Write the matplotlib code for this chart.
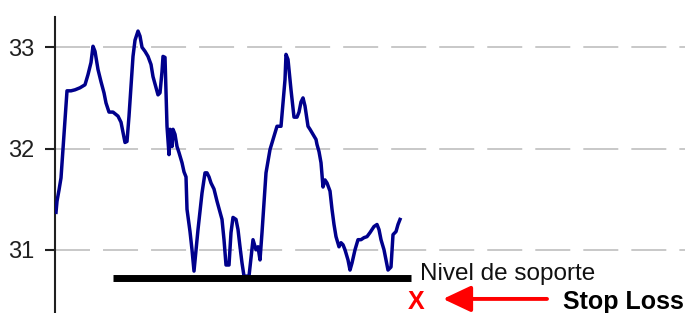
import matplotlib
matplotlib.use("Agg")
import matplotlib.pyplot as plt

# sesiones (indice) y precio de cierre
dias = [0, 1, 3, 5, 7, 9, 11, 15, 19, 24, 29, 32, 35, 37, 39, 42, 45, 48, 50, 53,
        57, 62, 65, 67, 69, 71, 73, 75, 77, 79, 82, 84, 86, 89, 92, 95, 97, 100, 102, 104,
        106, 107, 109, 110, 111, 113, 114, 116, 117, 119, 121, 123, 126, 128, 130, 131, 134, 136, 138, 140,
        142, 144, 146, 149, 151, 153, 155, 158, 161, 164, 166, 168, 170, 173, 175, 177, 180, 182, 184, 186,
        188, 191, 193, 195, 197, 200, 202, 204, 206, 208, 210, 214, 221, 223, 225, 227, 229, 230, 232, 235,
        238, 241, 243, 245, 247, 249, 252, 254, 257, 260, 261, 263, 265, 267, 269, 271, 274, 276, 278, 280,
        283, 285, 287, 289, 292, 294, 296, 299, 302, 305, 308, 311, 314, 316, 318, 321, 323, 325, 328, 330,
        332, 335, 337, 340, 342, 344]
precio = [31.37, 31.48, 31.59, 31.71, 32.00, 32.29, 32.57, 32.57, 32.58, 32.60, 32.63, 32.73, 32.85, 33.01, 32.96, 32.78, 32.66, 32.55, 32.45, 32.36,
          32.36, 32.32, 32.26, 32.16, 32.06, 32.07, 32.32, 32.61, 32.91, 33.07, 33.16, 33.11, 33.00, 32.96, 32.91, 32.83, 32.71, 32.60, 32.53, 32.55,
          32.76, 32.91, 32.90, 32.56, 32.22, 31.94, 32.19, 32.02, 32.19, 32.14, 32.02, 31.96, 31.86, 31.77, 31.72, 31.40, 31.18, 31.00, 30.79, 31.00,
          31.20, 31.38, 31.56, 31.76, 31.76, 31.72, 31.66, 31.60, 31.48, 31.37, 31.30, 31.10, 30.85, 30.85, 31.17, 31.32, 31.30, 31.20, 31.03, 30.87,
          30.74, 30.74, 30.74, 30.92, 31.10, 31.00, 31.03, 30.90, 31.17, 31.47, 31.76, 31.99, 32.22, 32.22, 32.22, 32.45, 32.68, 32.93, 32.88, 32.58,
          32.31, 32.31, 32.36, 32.46, 32.50, 32.42, 32.22, 32.19, 32.14, 32.09, 32.04, 31.97, 31.86, 31.62, 31.69, 31.66, 31.58, 31.40, 31.25, 31.13,
          31.03, 31.07, 31.05, 31.00, 30.90, 30.80, 30.87, 31.00, 31.10, 31.10, 31.12, 31.13, 31.17, 31.20, 31.23, 31.25, 31.20, 31.10, 31.00, 30.90,
          30.80, 30.83, 31.15, 31.18, 31.25, 31.30]

soporte = 30.72
soporte_desde, soporte_hasta = 57, 355
yticks = [31, 32, 33]

plt.rcParams['font.family'] = ['Liberation Sans', 'DejaVu Sans']

fig = plt.figure(figsize=(6.85, 3.13), dpi=100)
ax = fig.add_axes([0.0803, 0.0, 0.9197, 0.946])

ax.plot(dias, precio, color="#00008c", lw=2.5, zorder=3)
ax.hlines(soporte, soporte_desde, soporte_hasta, color="black", lw=5, zorder=4)

ax.set_xlim(-1, 629)
ax.set_ylim(30.376, 33.30)
ax.set_yticks(yticks)
ax.set_xticks([])
ax.yaxis.grid(True, color="#c8c8c8", lw=1.4, linestyle=(0, (18, 6.7)))
ax.set_axisbelow(True)
for s in ["top", "right", "bottom"]:
    ax.spines[s].set_visible(False)
ax.spines["left"].set_linewidth(1.5)
ax.spines["left"].set_color("#202020")
ax.tick_params(axis="y", length=7.2, width=1.5, pad=8, labelsize=17, colors="#202020")

# anotaciones
ax.text(364, 30.70, "Nivel de soporte", fontsize=17.5, color="#111111", va="baseline", ha="left", clip_on=False)
ax.text(352, 30.42, "X", fontsize=18, fontweight="bold", color="red", va="baseline", ha="left")
ax.annotate("", xy=(387, 30.515), xytext=(491, 30.515),
            arrowprops=dict(arrowstyle="-|>,head_length=17,head_width=8", mutation_scale=1,
                            color="red", lw=2.8, shrinkA=0, shrinkB=0))
ax.text(507, 30.415, "Stop Loss", fontsize=18, fontweight="bold", color="black", va="baseline", ha="left")

fig.savefig("out.png", dpi=100)
